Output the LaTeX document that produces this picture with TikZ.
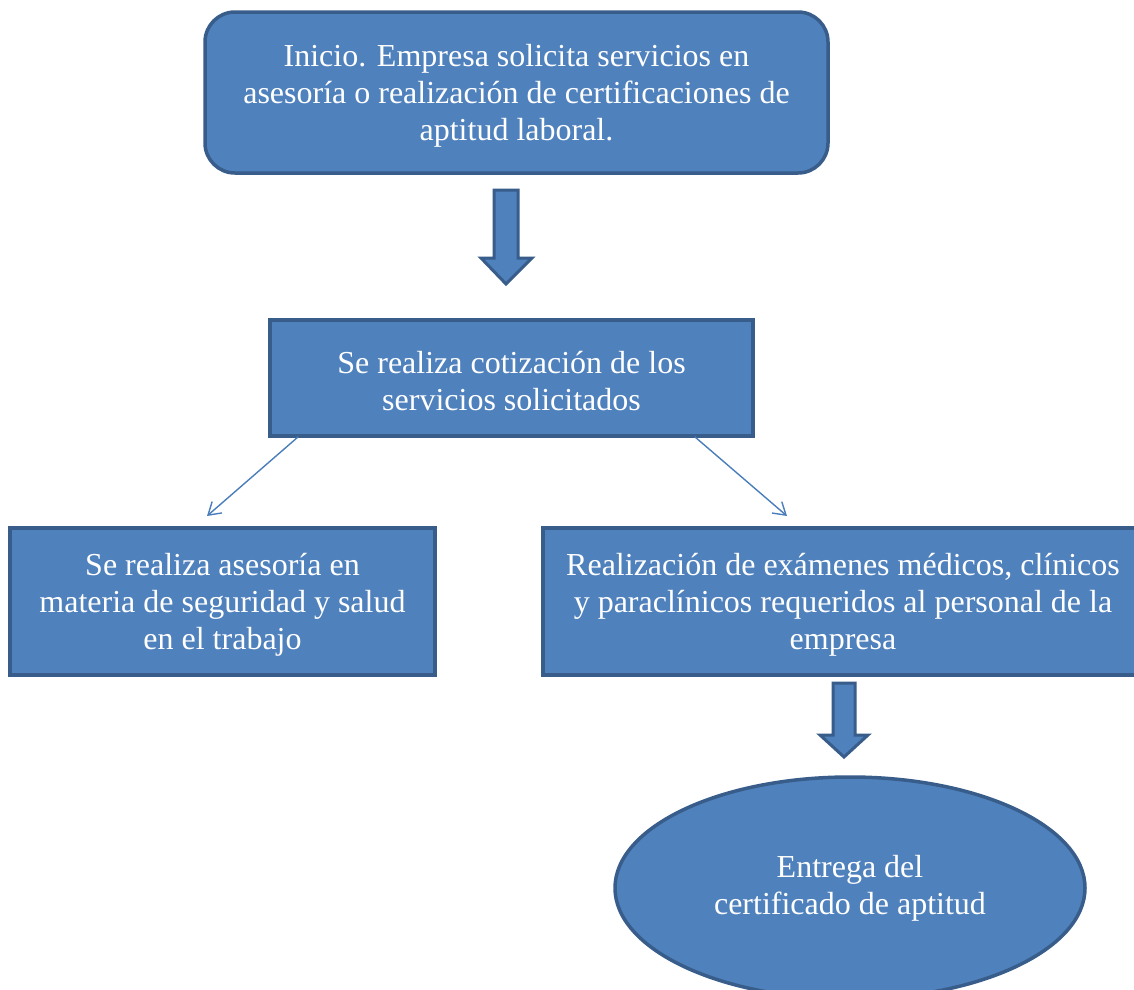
\documentclass[tikz,border=0pt]{standalone}
\usepackage{fontspec}
\setmainfont{Liberation Serif}
\usetikzlibrary{shapes.geometric,arrows.meta,calc}
\definecolor{boxfill}{HTML}{4F81BD}
\definecolor{boxline}{HTML}{385D8A}
\definecolor{thinline}{HTML}{4A7EBB}
\begin{document}
\begin{tikzpicture}[x=1pt,y=-1pt,
  txt/.style={text=white,font=\fontsize{32}{37}\selectfont,align=center,inner sep=0pt},
  stepbox/.style={draw=boxline,fill=boxfill,line width=3.5pt,inner sep=0pt},
  blockarrow/.style={draw=boxline,fill=boxfill,line width=3pt,line join=miter},
  thinarrow/.style={draw=thinline,line width=1.4pt,-{Straight Barb[length=12pt,width=15pt,line width=1.4pt]}}]
\useasboundingbox (0,0) rectangle (1134,989);
\clip (0,0) rectangle (1134,989);
\fill[white] (0,0) rectangle (1134,989);
% top rounded box
\node[stepbox,rounded corners=30pt,minimum width=623pt,minimum height=161pt] (inicio) at (516.5,92.5) {};
\node[txt] (inicio-t) at ($(inicio)+(0,3)$)
  {Inicio. Empresa solicita servicios en\\asesoría o realización de certificaciones de\\aptitud laboral.};
% block arrow 1
\coordinate (a1) at (506,190);
\draw[blockarrow] (a1) ++(-12,0) -- ++(0,68) -- ++(-13,0) -- ++(25,26) -- ++(26,-26) -- ++(-14,0) -- ++(0,-68) -- cycle;
% second box
\node[stepbox,minimum width=483pt,minimum height=116pt] (cotiz) at (511.5,378) {};
\node[txt] (cotiz-t) at ($(cotiz)+(0,3)$) {Se realiza cotización de los\\servicios solicitados};
% left box
\node[stepbox,minimum width=425pt,minimum height=147pt] (aseso) at (222.5,601.5) {};
\node[txt] (aseso-t) at ($(aseso)+(0,3)$) {Se realiza asesoría en\\materia de seguridad y salud\\en el trabajo};
% right box
\node[stepbox,minimum width=600pt,minimum height=147pt] (exam) at (843,601.5) {};
\node[txt] (exam-t) at ($(exam)+(0,3)$) {Realización de exámenes médicos, clínicos\\y paraclínicos requeridos al personal de la\\empresa};
% thin arrows
\coordinate (la) at (207,516);
\coordinate (ra) at (787,516);
\draw[thinarrow] ($(cotiz.south west)+(30,-1)$) -- (la);
\draw[thinarrow] ($(cotiz.south east)+(-60,-1)$) -- (ra);
% block arrow 2
\coordinate (a2) at (844,683);
\draw[blockarrow] (a2) ++(-11,0) -- ++(0,52) -- ++(-13,0) -- ++(24,22) -- ++(24,-22) -- ++(-13,0) -- ++(0,-52) -- cycle;
% ellipse
\node[stepbox,ellipse,minimum width=470pt,minimum height=222pt] (entrega) at (850,888) {};
\node[txt] (entrega-t) at (850,888) {Entrega del\\certificado de aptitud};
\end{tikzpicture}
\end{document}
